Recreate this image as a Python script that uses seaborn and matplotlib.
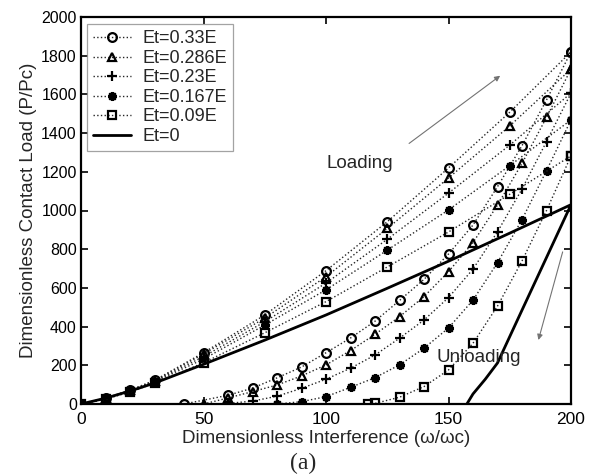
import numpy as np
import pandas as pd
import matplotlib
matplotlib.use("Agg")
import matplotlib.pyplot as plt
import seaborn as sns

# ---------------- data ----------------
load_x = [0, 10, 20, 30, 50, 75, 100, 125, 150, 175, 200]
load_033 = [0, 30, 72, 122, 265, 460, 689, 942, 1220, 1508, 1820]
load_0286 = [0, 29, 70, 120, 258, 444, 658, 907, 1168, 1437, 1731]
load_023 = [0, 28, 68, 117, 245, 425, 625, 851, 1090, 1338, 1607]
load_0167 = [0, 27, 66, 114, 232, 408, 590, 795, 1003, 1232, 1468]
load_009 = [0, 25, 62, 108, 213, 368, 529, 708, 889, 1084, 1282]
load_0 = [0, 30, 67, 108, 205, 330, 460, 598, 738, 883, 1030]

unl_033_x = [200, 190, 180, 170, 160, 150, 140, 130, 120, 110, 100, 90, 80, 70, 60, 42]
unl_033_y = [1820, 1571, 1335, 1123, 925, 775, 644, 535, 428, 341, 265, 191, 135, 82, 45, 0]
unl_0286_x = [200, 190, 180, 170, 160, 150, 140, 130, 120, 110, 100, 90, 80, 70, 60, 50]
unl_0286_y = [1731, 1481, 1243, 1028, 834, 684, 555, 451, 360, 276, 202, 145, 98, 64, 31, 0]
unl_023_x = [200, 190, 180, 170, 160, 150, 140, 130, 120, 110, 100, 90, 80, 70, 60]
unl_023_y = [1607, 1356, 1111, 890, 697, 550, 434, 340, 253, 185, 128, 81, 40, 15, 3]
unl_0167_x = [200, 190, 180, 170, 160, 150, 140, 130, 120, 110, 100, 90, 80]
unl_0167_y = [1468, 1206, 953, 730, 537, 393, 288, 202, 136, 86, 38, 12, 0]
unl_009_x = [200, 190, 180, 170, 160, 150, 140, 130, 120, 117]
unl_009_y = [1282, 1000, 739, 506, 314, 176, 90, 35, 3, 0]
unl_0_x = [200, 190, 180, 170, 165, 160, 157.5]
unl_0_y = [1030, 757, 485, 212, 128, 52, 0]

labels = ["Et=0.33E", "Et=0.286E", "Et=0.23E", "Et=0.167E", "Et=0.09E", "Et=0"]
x_ticks = [0, 50, 100, 150, 200]
y_ticks = list(range(0, 2001, 200))

loads = [load_033, load_0286, load_023, load_0167, load_009, load_0]
unl_x = [unl_033_x, unl_0286_x, unl_023_x, unl_0167_x, unl_009_x, unl_0_x]
unl_y = [unl_033_y, unl_0286_y, unl_023_y, unl_0167_y, unl_009_y, unl_0_y]

# ---------------- style ----------------
sns.set_theme(style="white")
plt.rcParams["font.family"] = ["Liberation Sans", "DejaVu Sans"]

fig = plt.figure(figsize=(5.97, 4.76), dpi=100)
ax = fig.add_axes([81 / 597, 1 - 404 / 476, 490 / 597, 387 / 476])

markers = ["o", "^", "+", (8, 2, 0), "s", None]
msizes = [6.3, 6.3, 7.5, 6.5, 5.8, 0]

for i, lab in enumerate(labels):
    xs = list(load_x) + list(unl_x[i])
    ys = list(loads[i]) + list(unl_y[i])
    df = pd.DataFrame({"x": xs, "y": ys})
    if markers[i] is None:
        sns.lineplot(data=df, x="x", y="y", sort=False, estimator=None, ax=ax,
                     color="black", lw=2.0, label=lab)
    else:
        sns.lineplot(data=df, x="x", y="y", sort=False, estimator=None, ax=ax,
                     color="0.15", lw=1.0, linestyle=":", marker=markers[i],
                     markersize=msizes[i], markerfacecolor="none" if i != 3 else "black",
                     markeredgecolor="black", markeredgewidth=1.6, label=lab)

ax.set_xlim(0, 200)
ax.set_ylim(0, 2000)
ax.set_xticks(x_ticks)
ax.set_yticks(y_ticks)
ax.tick_params(axis="both", which="both", direction="in", length=5, width=1.2,
               top=True, right=True, bottom=True, left=True, colors="black")
ax.tick_params(axis="x", labelsize=12.5, pad=6)
ax.tick_params(axis="y", labelsize=11.5, pad=3)
for s in ax.spines.values():
    s.set_color("black")
    s.set_linewidth(1.6)

ax.set_xlabel("Dimensionless Interference (ω/ωc)", fontsize=13.5, labelpad=2)
ax.set_ylabel("Dimensionless Contact Load (P/Pc)", fontsize=13.5, labelpad=3)

ax.annotate("", xy=(172, 1705), xytext=(133, 1338),
            arrowprops=dict(arrowstyle="-|>", color="0.45", lw=0.8, mutation_scale=8))
ax.annotate("", xy=(186.4, 317), xytext=(196.9, 800),
            arrowprops=dict(arrowstyle="-|>", color="0.45", lw=0.8, mutation_scale=8))
ax.text(100.4, 1245, "Loading", fontsize=13.5, ha="left", va="center")
ax.text(145.2, 240, "Unloading", fontsize=13.5, ha="left", va="center")

leg = ax.legend(loc="upper left", bbox_to_anchor=(6 / 490, 380 / 387), borderaxespad=0,
                fontsize=13, frameon=True, fancybox=False, edgecolor="0.55",
                handlelength=2.1, handletextpad=0.6, labelspacing=0.14, borderpad=0.35)
leg.get_frame().set_linewidth(0.9)

fig.text(303 / 597, 1 - 463 / 476, "(a)", fontsize=17, ha="center", va="center",
         family=["Liberation Serif", "DejaVu Serif"])

fig.savefig("out.png", dpi=100)
